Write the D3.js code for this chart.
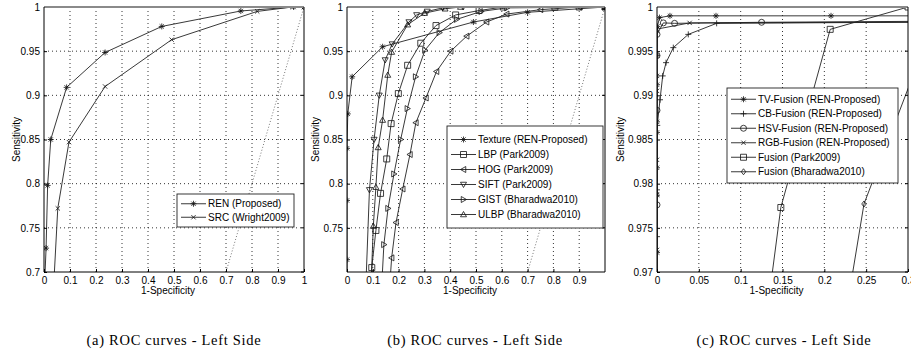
<!DOCTYPE html>
<html>
<head>
<meta charset="utf-8">
<script src="https://cdn.jsdelivr.net/npm/d3@7"></script>
<style>
  body { margin: 0; background: #fff; }
  svg { display: block; }
  text { font-family: "Liberation Sans", Arial, sans-serif; fill: #000; }
  .caption { font-family: "Liberation Serif", "Times New Roman", serif; letter-spacing: 0.7px; }
</style>
</head>
<body>
<svg width="911" height="356"></svg>
<script>
// ---- data ([1-specificity, sensitivity]) ----
// panel (a)
const renProposed = [[0.0, 0.67], [0.008, 0.727], [0.014, 0.798], [0.026, 0.85], [0.087, 0.909], [0.235, 0.9485], [0.453, 0.978], [0.757, 0.9955], [0.96, 1.0], [1, 1]];
const srcWright = [[0.031, 0.65], [0.053, 0.772], [0.096, 0.847], [0.235, 0.91], [0.491, 0.963], [0.82, 0.995], [0.955, 1.0], [1, 1]];

// panel (b)
const textureRen = [[0, 0.66], [0, 0.714], [0, 0.781], [0, 0.84], [0.003, 0.879], [0.02, 0.921], [0.138, 0.955], [0.49, 0.983], [0.7, 0.994], [1, 1]];
const lbpPark = [[0.094, 0.66], [0.096, 0.705], [0.112, 0.747], [0.13, 0.789], [0.154, 0.828], [0.171, 0.868], [0.199, 0.902], [0.235, 0.934], [0.286, 0.959], [0.345, 0.979], [0.421, 0.991], [0.512, 0.996], [0.606, 1.0], [0.806, 1.0], [0.9, 1.0], [1, 1]];
const hogPark = [[0.16, 0.66], [0.173, 0.716], [0.19, 0.756], [0.216, 0.794], [0.244, 0.833], [0.267, 0.869], [0.306, 0.897], [0.347, 0.927], [0.402, 0.95], [0.464, 0.967], [0.541, 0.983], [0.619, 0.992], [0.75, 0.997], [0.9, 1.0], [1, 1]];
const siftPark = [[0.07, 0.66], [0.087, 0.793], [0.105, 0.85], [0.125, 0.9], [0.148, 0.94], [0.175, 0.958], [0.24, 0.983], [0.27, 0.991], [0.311, 0.995], [0.371, 0.999], [0.45, 1.0], [1, 1]];
const gistBharadwa = [[0.13, 0.66], [0.143, 0.731], [0.159, 0.772], [0.182, 0.811], [0.208, 0.85], [0.234, 0.885], [0.266, 0.921], [0.302, 0.951], [0.358, 0.971], [0.425, 0.986], [0.52, 0.995], [0.62, 0.999], [1, 1]];
const ulbpBharadwa = [[0.09, 0.66], [0.102, 0.752], [0.112, 0.796], [0.121, 0.841], [0.138, 0.872], [0.158, 0.923], [0.173, 0.949], [0.235, 0.98], [0.3, 0.993], [0.38, 0.998], [0.44, 1.0], [1, 1]];

// panel (c)
const tvFusion = [[0, 0.965], [0, 0.9722], [0, 0.9787], [0, 0.9818], [0, 0.9858], [0, 0.987], [0, 0.9912], [0, 0.9922], [0, 0.9945], [0.0005, 0.9978], [0.003, 0.9988], [0.0155, 0.999], [0.0705, 0.999], [0.208, 0.999], [0.35, 0.999]];
const cbFusion = [[0, 0.965], [0, 0.974], [0, 0.9793], [0.0003, 0.9866], [0.0036, 0.9895], [0.0068, 0.9922], [0.0108, 0.9937], [0.0195, 0.9954], [0.0374, 0.9969], [0.0713, 0.99815], [0.35, 0.9983]];
const hsvFusion = [[0, 0.965], [0, 0.9776], [0, 0.9883], [0, 0.9945], [0, 0.9969], [0.0076, 0.9982], [0.021, 0.99815], [0.125, 0.99827], [0.35, 0.9984]];
const rgbFusion = [[0, 0.965], [0, 0.9725], [0, 0.9788], [0, 0.9827], [0, 0.9905], [0, 0.9975], [0.039, 0.9982], [0.35, 0.9983]];
const parkFusion = [[0.131, 0.965], [0.148, 0.9773], [0.207, 0.99747], [0.3, 1.0]];
const bharadwaFusion = [[0.2253, 0.965], [0.2474, 0.9777], [0.32, 0.9957]];

// tick values
const ticksA_x = [0, 0.1, 0.2, 0.3, 0.4, 0.5, 0.6, 0.7, 0.8, 0.9, 1];
const ticksA_y = [0.7, 0.75, 0.8, 0.85, 0.9, 0.95, 1];
const ticksB_x = [0, 0.1, 0.2, 0.3, 0.4, 0.5, 0.6, 0.7, 0.8, 0.9];
const ticksB_y = [0.75, 0.8, 0.85, 0.9, 0.95, 1];
const ticksC_x = [0, 0.05, 0.1, 0.15, 0.2, 0.25, 0.3];
const ticksC_y = [0.97, 0.975, 0.98, 0.985, 0.99, 0.995, 1];

const svg = d3.select('svg');

// matlab-ish marker shapes
function markerPath(type) {
  const s = 3;
  const a = s * 0.72;
  switch (type) {
    case 'star': return `M${-s},0H${s}M0,${-s}V${s}M${-a},${-a}L${a},${a}M${-a},${a}L${a},${-a}`;
    case 'x': return `M${-a},${-a}L${a},${a}M${-a},${a}L${a},${-a}`;
    case 'plus': return `M${-s},0H${s}M0,${-s}V${s}`;
    case 'square': return `M${-s},${-s}H${s}V${s}H${-s}Z`;
    case 'circle': return `M${s},0A${s},${s} 0 1,1 ${-s},0A${s},${s} 0 1,1 ${s},0Z`;
    case 'up': return `M0,${-s}L${s},${s * 0.75}L${-s},${s * 0.75}Z`;
    case 'down': return `M0,${s}L${s},${-s * 0.75}L${-s},${-s * 0.75}Z`;
    case 'left': return `M${-s},0L${s * 0.75},${-s}L${s * 0.75},${s}Z`;
    case 'right': return `M${s},0L${-s * 0.75},${-s}L${-s * 0.75},${s}Z`;
    case 'diamond': return `M0,${-s}L${s * 0.75},0L0,${s}L${-s * 0.75},0Z`;
  }
}

function drawPanel(p, idx) {
  const x = d3.scaleLinear().domain(p.xDomain).range([p.left, p.right]);
  const y = d3.scaleLinear().domain(p.yDomain).range([p.bottom, p.top]);
  const g = svg.append('g');

  const clipId = 'clip' + idx;
  svg.append('clipPath').attr('id', clipId)
    .append('rect')
    .attr('x', p.left).attr('y', p.top)
    .attr('width', p.right - p.left).attr('height', p.bottom - p.top);

  // dotted grid
  g.selectAll('.gx').data(p.xTicks.filter(v => v > p.xDomain[0] && v < p.xDomain[1]))
    .enter().append('line')
    .attr('x1', d => x(d)).attr('x2', d => x(d))
    .attr('y1', p.top).attr('y2', p.bottom)
    .attr('stroke', '#000').attr('stroke-width', 0.8).attr('stroke-dasharray', '1,3');
  g.selectAll('.gy').data(p.yTicks.filter(v => v > p.yDomain[0] && v < p.yDomain[1]))
    .enter().append('line')
    .attr('y1', d => y(d)).attr('y2', d => y(d))
    .attr('x1', p.left).attr('x2', p.right)
    .attr('stroke', '#000').attr('stroke-width', 0.8).attr('stroke-dasharray', '1,3');

  const plot = g.append('g').attr('clip-path', `url(#${clipId})`);

  // chance diagonal
  plot.append('line')
    .attr('x1', x(0)).attr('y1', y(0)).attr('x2', x(1)).attr('y2', y(1))
    .attr('stroke', '#555').attr('stroke-width', 0.8).attr('stroke-dasharray', '1,2');

  const line = d3.line().x(d => x(d[0])).y(d => y(d[1]));
  p.series.forEach(s => {
    plot.append('path').datum(s.data)
      .attr('d', line)
      .attr('fill', 'none').attr('stroke', '#222').attr('stroke-width', 0.9);
    plot.selectAll(null).data(s.data).enter().append('path')
      .attr('transform', d => `translate(${x(d[0])},${y(d[1])})`)
      .attr('d', markerPath(s.marker))
      .attr('fill', 'none').attr('stroke', '#111').attr('stroke-width', 0.8);
  });

  // axes with inward ticks
  const fmt = v => String(+v.toFixed(3));
  g.append('g').attr('transform', `translate(0,${p.bottom})`)
    .call(d3.axisBottom(x).tickValues(p.xTicks).tickFormat(fmt).tickSizeInner(-3).tickSizeOuter(0).tickPadding(5))
    .call(a => a.select('.domain').remove())
    .call(a => a.selectAll('text').style('font-size', '10px').attr('font-family', '"Liberation Sans", Arial, sans-serif'));
  g.append('g').attr('transform', `translate(${p.left},0)`)
    .call(d3.axisLeft(y).tickValues(p.yTicks).tickFormat(fmt).tickSizeInner(-3).tickSizeOuter(0).tickPadding(4))
    .call(a => a.select('.domain').remove())
    .call(a => a.selectAll('text').style('font-size', '10px').attr('font-family', '"Liberation Sans", Arial, sans-serif'));
  // ticks on right
  g.selectAll('.rt').data(p.yTicks).enter().append('line')
    .attr('x1', p.right).attr('x2', p.right - 3)
    .attr('y1', d => y(d)).attr('y2', d => y(d)).attr('stroke', '#000');

  // box
  g.append('line').attr('x1', p.left).attr('x2', p.right).attr('y1', p.top).attr('y2', p.top)
    .attr('stroke', '#8a8a8a').attr('stroke-width', 2.2);
  g.append('line').attr('x1', p.left).attr('x2', p.right).attr('y1', p.bottom).attr('y2', p.bottom)
    .attr('stroke', '#000');
  g.append('line').attr('x1', p.left).attr('x2', p.left).attr('y1', p.top).attr('y2', p.bottom)
    .attr('stroke', '#000');
  g.append('line').attr('x1', p.right).attr('x2', p.right).attr('y1', p.top).attr('y2', p.bottom)
    .attr('stroke', '#000');

  // axis labels
  g.append('text').attr('x', (p.left + p.right) / 2 - 6).attr('y', 294)
    .attr('text-anchor', 'middle').style('font-size', '10px').text('1-Specificity');
  g.append('text')
    .attr('transform', `translate(${p.ylabelX},${(p.top + p.bottom) / 2}) rotate(-90)`)
    .attr('text-anchor', 'middle').attr('dy', '0.35em').style('font-size', '10px').text('Sensitivity');

  // legend
  const L = p.legend;
  g.append('rect').attr('x', L.x).attr('y', L.y).attr('width', L.w).attr('height', L.h)
    .attr('fill', '#fff').attr('stroke', '#222').attr('stroke-width', 0.9);
  p.series.forEach((s, i) => {
    const cy = L.y + L.pad + L.row * (i + 0.5);
    g.append('line').attr('x1', L.x + 4).attr('x2', L.x + 29).attr('y1', cy).attr('y2', cy)
      .attr('stroke', '#222').attr('stroke-width', 0.9);
    g.append('path').attr('transform', `translate(${L.x + 16.5},${cy})`)
      .attr('d', markerPath(s.marker)).attr('fill', 'none').attr('stroke', '#111').attr('stroke-width', 0.8);
    g.append('text').attr('x', L.x + 31).attr('y', cy).attr('dy', '0.35em')
      .style('font-size', '10px').text(s.name);
  });

  // caption
  g.append('text').attr('class', 'caption').attr('x', p.captionX).attr('y', 345)
    .attr('text-anchor', 'middle').style('font-size', '14.5px').text(p.caption);
}

const panels = [
  {
    left: 44, right: 304, top: 7, bottom: 272,
    xDomain: [0, 1], yDomain: [0.7, 1], xTicks: ticksA_x, yTicks: ticksA_y,
    ylabelX: 16, captionX: 174, caption: '(a) ROC curves - Left Side',
    legend: { x: 177, y: 194, w: 117, h: 33, pad: 3, row: 13.5 },
    series: [
      { name: 'REN (Proposed)', marker: 'star', data: renProposed },
      { name: 'SRC (Wright2009)', marker: 'x', data: srcWright }
    ]
  },
  {
    left: 347, right: 605, top: 7, bottom: 272,
    xDomain: [0, 1], yDomain: [0.7, 1], xTicks: ticksB_x, yTicks: ticksB_y,
    ylabelX: 315, captionX: 475, caption: '(b) ROC curves - Left Side',
    legend: { x: 447, y: 126, w: 156, h: 102, pad: 6, row: 15 },
    series: [
      { name: 'Texture (REN-Proposed)', marker: 'star', data: textureRen },
      { name: 'LBP (Park2009)', marker: 'square', data: lbpPark },
      { name: 'HOG (Park2009)', marker: 'left', data: hogPark },
      { name: 'SIFT (Park2009)', marker: 'down', data: siftPark },
      { name: 'GIST (Bharadwa2010)', marker: 'right', data: gistBharadwa },
      { name: 'ULBP (Bharadwa2010)', marker: 'up', data: ulbpBharadwa }
    ]
  },
  {
    left: 657, right: 908, top: 7, bottom: 272,
    xDomain: [0, 0.3], yDomain: [0.97, 1], xTicks: ticksC_x, yTicks: ticksC_y,
    ylabelX: 620, captionX: 784, caption: '(c) ROC curves - Left Side',
    legend: { x: 727, y: 88, w: 171, h: 95, pad: 4, row: 14.5 },
    series: [
      { name: 'TV-Fusion (REN-Proposed)', marker: 'star', data: tvFusion },
      { name: 'CB-Fusion (REN-Proposed)', marker: 'plus', data: cbFusion },
      { name: 'HSV-Fusion (REN-Proposed)', marker: 'circle', data: hsvFusion },
      { name: 'RGB-Fusion (REN-Proposed)', marker: 'x', data: rgbFusion },
      { name: 'Fusion (Park2009)', marker: 'square', data: parkFusion },
      { name: 'Fusion (Bharadwa2010)', marker: 'diamond', data: bharadwaFusion }
    ]
  }
];

panels.forEach((p, i) => drawPanel(p, i));
</script>
</body>
</html>
